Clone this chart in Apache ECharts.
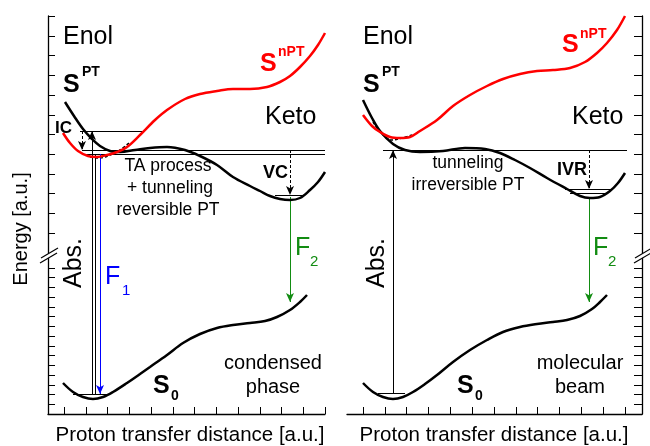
<!DOCTYPE html>
<html><head><meta charset="utf-8">
<script src="https://cdn.jsdelivr.net/npm/echarts@6/dist/echarts.min.js"></script>
<style>html,body{margin:0;padding:0;background:#fff}#c{width:650px;height:446px}</style>
</head><body><div id="c"></div>
<script>
// ---------- data (arbitrary units) ----------
const xTicksLeft  = [0,21.75,43.5,65.25,87,108.75,130.5,152.25,174,195.75,217.5,239.25,261];
const xTicksRight = [0,21.8,43.7,65.5,87.3,109.2,131,152.8,174.7,196.5,218.3,240.2,262];
const yTicksLower = [9.75,19.5,29.25,39,48.75,58.5,68.25,78,87.75,97.5,107.25,117,126.75,136.5,146.25];
const yTicksUpper = [181,200.7,220.4,240.1,259.8,279.5,299.2,318.9,338.6,358.3,378,397.7];

// condensed phase (left panel)
const leftSPT  = [[1,312],[10,298],[19,285],[28,275],[36,268],[46,263],[56,262],[71,264],[86,266],[103,267],[121,264],[136,258],[153,249],[169,237],[186,228],[196,223],[206,218],[216,215],[226,214],[236,216],[246,224],[254,232],[261,242]];
const leftSnPT = [[-1,281],[6,271],[14,263],[24,258],[33,257],[43,259],[53,262],[63,267],[76,279],[91,294],[103,304],[121,315],[136,320],[153,323],[169,325],[186,325],[203,327],[216,332],[226,338],[236,347],[246,358],[254,369],[261,381]];
const leftS0   = [[-1,31],[9,22],[19,17],[29,15],[39,17],[49,22],[63,31],[76,40],[86,47],[103,59],[119,71],[136,80],[153,86],[169,89],[186,91],[201,93],[213,97],[226,104],[236,112],[243,119]];
const leftWave = [[26,257],[36,256],[46,259],[56,264],[66,272]];

// molecular beam (right panel)
const rightSPT  = [[0,314],[9,296],[17,283],[30,270],[42,264],[57,262],[80,263],[102,266],[122,265],[137,261],[152,254],[167,246],[184,236],[204,225],[217,218],[227,216],[237,217],[247,223],[255,231],[262,241]];
const rightSnPT = [[0,299],[9,288],[17,282],[27,277],[37,276],[47,277],[57,283],[74,294],[90,308],[107,319],[124,328],[140,335],[157,340],[174,343],[190,344],[207,346],[222,352],[234,361],[244,371],[254,384],[262,398]];
const rightS0   = [[0,31],[10,22],[20,17],[30,15],[40,17],[50,22],[62,30],[74,39],[90,52],[107,64],[124,74],[140,82],[157,87],[174,90],[190,92],[204,94],[217,98],[229,105],[237,112],[244,119]];
const rightWave = [[10,292],[19,280],[29,274],[39,276],[49,279]];

// horizontal levels [x1, x2, y]
const leftLevels  = [[16,79,283],[18,261,264],[18,261,260],[211,241,219],[9,46,20]];
const rightLevels = [[20,264,264],[202,250,225],[207,245,221],[15,42,21]];
// vertical transitions [x, yFrom, yTo]
const leftAbs  = [28,20,283];
const leftAbs2 = [31,20,260];
const leftIC   = [18,283,264];
const leftF1   = [36,260,20];
const leftVC   = [226,264,219];
const leftF2   = [226,217,112];
const rightAbs = [30,21,264];
const rightIVR = [226,264,225];
const rightF2  = [226,217,112];

// ---------- styling ----------
const RED = '#ff0000', BLUE = '#0000ff', GREEN = '#128c12', BLACK = '#000';
const FONT = '"Liberation Sans", Arial, Helvetica, sans-serif';

function lvl(a, color){ return [{coord:[a[0],a[2]], symbol:'none', lineStyle:{color:color||BLACK,width:1,type:'solid'}},{coord:[a[1],a[2]], symbol:'none', lineStyle:{color:color||BLACK,width:1,type:'solid'}}]; }
function arr(a, color, dashed, arrow){
  const ls = {color:color, width:1, type: dashed ? [3,2] : 'solid'};
  return [{coord:[a[0],a[1]], symbol:'none', lineStyle:ls},{coord:[a[0],a[2]], symbol: arrow===false?'none':'arrow', symbolSize:[6,9], lineStyle:ls}];
}

function curve(data, color, xi, extra){
  return Object.assign({type:'line', data:data, xAxisIndex:xi, yAxisIndex:xi, smooth:0.35, showSymbol:false, symbol:'none', clip:false, silent:true,
    lineStyle:{color:color, width:2.5}, z:5}, extra||{});
}

const axisCommon = {
  axisLabel:{show:false}, splitLine:{show:false},
  axisLine:{show:true, onZero:false, lineStyle:{color:BLACK, width:1.3}}
};

const option = {
  animation:false,
  backgroundColor:'#fff',
  grid:[{left:48, top:16, width:277, height:398},{left:347, top:16, width:295, height:398}],
  xAxis:[
    Object.assign({type:'value', gridIndex:0, min:-16, max:261, position:'bottom',
      axisTick:{show:true, inside:true, length:7, customValues:xTicksLeft, lineStyle:{color:BLACK,width:1}}}, axisCommon),
    Object.assign({type:'value', gridIndex:1, min:-16, max:279, position:'bottom',
      axisTick:{show:true, inside:true, length:7, customValues:xTicksRight, lineStyle:{color:BLACK,width:1}}}, axisCommon)
  ],
  yAxis:[
    Object.assign({type:'value', gridIndex:0, min:0, max:398, position:'left',
      axisTick:{show:true, inside:true, length:7, customValues:yTicksLower.concat(yTicksUpper), lineStyle:{color:BLACK,width:1}}}, axisCommon),
    Object.assign({type:'value', gridIndex:1, min:0, max:398, position:'right',
      axisTick:{show:true, inside:true, length:8, customValues:yTicksLower.concat(yTicksUpper), lineStyle:{color:BLACK,width:1}}}, axisCommon)
  ],
  series:[
    curve(leftSPT, BLACK, 0, {markLine:{silent:true, animation:false, symbol:['none','none'], label:{show:false}, emphasis:{disabled:true},
      data:[lvl(leftLevels[0]),lvl(leftLevels[1]),lvl(leftLevels[2]),lvl(leftLevels[3]),lvl(leftLevels[4]),
            arr(leftAbs,BLACK,false,true), arr(leftAbs2,BLACK,false,false), arr(leftIC,BLACK,true,true),
            arr(leftF1,BLUE,false,true), arr(leftVC,BLACK,true,true), arr(leftF2,GREEN,false,true)]}}),
    curve(leftSnPT, RED, 0),
    curve(leftS0, BLACK, 0),
    curve(leftWave, BLACK, 0, {lineStyle:{color:BLACK, width:1.5, type:[3,2]}, z:4}),
    curve(rightSPT, BLACK, 1, {markLine:{silent:true, animation:false, symbol:['none','none'], label:{show:false}, emphasis:{disabled:true},
      data:[lvl(rightLevels[0]),lvl(rightLevels[1]),lvl(rightLevels[2]),lvl(rightLevels[3]),
            arr(rightAbs,BLACK,false,true), arr(rightIVR,BLACK,true,true), arr(rightF2,GREEN,false,true)]}}),
    curve(rightSnPT, RED, 1),
    curve(rightS0, BLACK, 1),
    curve(rightWave, BLACK, 1, {lineStyle:{color:BLACK, width:1.5, type:[3,2]}, z:4})
  ]
};

const chart = echarts.init(document.getElementById('c'), null, {renderer:'canvas'});
chart.setOption(option);

// ---------- annotations: [panel, text, x, y, size, bold, color, align, rotated] ----------
const labels = [
  [0,'Enol',-1,377,25,0,BLACK,'left'],
  [0,'S',-1,329,25,1,BLACK,'left'],
  [0,'PT',18,342,14,1,BLACK,'left'],
  [0,'S',196,350,25,1,RED,'left'],
  [0,'nPT',214,362,14,1,RED,'left'],
  [0,'Keto',201,297,25,0,BLACK,'left'],
  [0,'IC',-9,286,17,1,BLACK,'left'],
  [0,'TA process',104,248,17.5,0,BLACK,'center'],
  [0,'+ tunneling',106,226,17.5,0,BLACK,'center'],
  [0,'reversible PT',104,204,17.5,0,BLACK,'center'],
  [0,'VC',199,241,18,1,BLACK,'left'],
  [0,'Abs.',10,151,25,0,BLACK,'center',1],
  [0,'F',41,137,25,0,BLUE,'left'],
  [0,'1',58,123,15,0,BLUE,'left'],
  [0,'F',231,166,25,0,GREEN,'left'],
  [0,'2',246,152,15,0,GREEN,'left'],
  [0,'S',89,28,25,1,BLACK,'left'],
  [0,'0',107,18,14,1,BLACK,'left'],
  [0,'condensed',209,51,20,0,BLACK,'center'],
  [0,'phase',209,27,20,0,BLACK,'center'],
  [0,'Energy [a.u.]',-43,185,20,0,BLACK,'center',1],
  [0,'Proton transfer distance [a.u.]',126,-21,20.5,0,BLACK,'center'],
  [1,'Enol',0,377,25,0,BLACK,'left'],
  [1,'S',0,329,25,1,BLACK,'left'],
  [1,'PT',19,342,14,1,BLACK,'left'],
  [1,'S',199,369,25,1,RED,'left'],
  [1,'nPT',217,380,14,1,RED,'left'],
  [1,'Keto',209,297,25,0,BLACK,'left'],
  [1,'tunneling',105,251,17.5,0,BLACK,'center'],
  [1,'irreversible PT',105,229,17.5,0,BLACK,'center'],
  [1,'IVR',194,244,18,1,BLACK,'left'],
  [1,'Abs.',14,151,25,0,BLACK,'center',1],
  [1,'F',230,166,25,0,GREEN,'left'],
  [1,'2',245,152,15,0,GREEN,'left'],
  [1,'S',94,28,25,1,BLACK,'left'],
  [1,'0',112,18,14,1,BLACK,'left'],
  [1,'molecular',217,51,20,0,BLACK,'center'],
  [1,'beam',217,27,20,0,BLACK,'center'],
  [1,'Proton transfer distance [a.u.]',131,-21,20.5,0,BLACK,'center']
];
const breakAt = 158;

const graphic = [];
labels.forEach(function(l){
  const p = chart.convertToPixel({gridIndex:l[0]}, [l[2], l[3]]);
  graphic.push({type:'text', x:p[0], y:p[1], rotation: l[8] ? Math.PI/2 : 0, z:50, silent:true,
    style:{text:l[1], fill:l[6], font:(l[5]?'bold ':'') + l[4] + 'px ' + FONT, align:l[7], verticalAlign:'middle'}});
});
function brk(cx, cy){
  return [
    {type:'polygon', z:100, silent:true, shape:{points:[[cx-8,cy+7],[cx+9,cy-3],[cx+10,cy-8],[cx-7,cy+2]]}, style:{fill:'#fff'}},
    {type:'line', z:101, silent:true, shape:{x1:cx-8,y1:cy+7,x2:cx+9,y2:cy-3}, style:{stroke:BLACK, lineWidth:1.2}},
    {type:'line', z:101, silent:true, shape:{x1:cx-7,y1:cy+2,x2:cx+10,y2:cy-8}, style:{stroke:BLACK, lineWidth:1.2}}
  ];
}
const bl = chart.convertToPixel({gridIndex:0}, [-16, breakAt]);
const br = chart.convertToPixel({gridIndex:1}, [279, breakAt]);
brk(bl[0], bl[1]).concat(brk(br[0], br[1])).forEach(function(e){ graphic.push(e); });
chart.setOption({graphic: graphic});
</script></body></html>
